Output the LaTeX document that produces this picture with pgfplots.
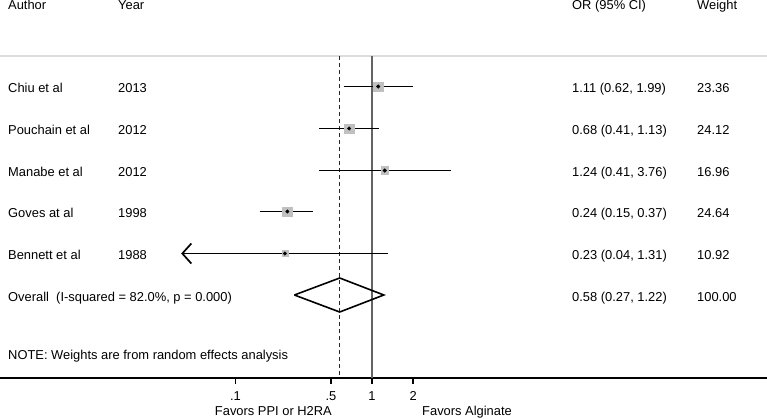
\documentclass[border=0pt]{standalone}
\usepackage{pgfplots}
\pgfplotsset{compat=1.18}
\usepackage{fontspec}
\setmainfont{Liberation Sans}
\usetikzlibrary{arrows.meta}
\definecolor{boxgray}{RGB}{192,192,192}
\definecolor{sepgray}{RGB}{220,220,220}
\definecolor{refgray}{RGB}{100,100,100}
\begin{document}
\begin{tikzpicture}[every node/.style={font=\fontsize{12.9bp}{15bp}\selectfont, inner sep=0pt}]
\begin{axis}[
  at={(0,0)}, anchor=north west,
  scale only axis, width=767bp, height=378bp,
  xmode=log, xmin=0.001883, xmax=783,
  ymin=-378, ymax=0,
  axis x line=bottom, axis y line=none,
  axis line style={-, black, line width=1.2bp},
  xtick={0.1,0.5,1,2}, xticklabels={.1,.5,1,2},
  minor xtick={},
  tick align=outside, major tick length=6bp,
  tick style={black, line width=1.2bp},
  xticklabel style={font=\fontsize{12.9bp}{15bp}\selectfont, yshift=-5.5bp, inner sep=2bp},
  /pgf/number format/assume math mode=true,
  clip=false,
]
% separator line
\addplot[sepgray, line width=2bp] coordinates {(0.001883,-56) (783,-56)};
% reference lines
\addplot[refgray, line width=2bp] coordinates {(1,-56) (1,-378)};
\addplot[black!85, line width=1.1bp, dash pattern=on 4bp off 3bp] coordinates {(0.58,-56) (0.58,-378)};
% confidence intervals
\addplot[black, line width=1.9bp] coordinates {(0.62,-86.5) (1.99,-86.5)};
\addplot[black, line width=1.9bp] coordinates {(0.41,-128.5) (1.13,-128.5)};
\addplot[black, line width=1.9bp] coordinates {(0.41,-170.5) (3.76,-170.5)};
\addplot[black, line width=1.9bp] coordinates {(0.15,-211.5) (0.37,-211.5)};
\addplot[black, line width=1.9bp, arrows={Straight Barb[length=9bp,width=20bp,line width=1.7bp]-}] coordinates {(0.04,-253.5) (1.31,-253.5)};
% weight boxes
\addplot[boxgray, only marks, mark=square*, mark size=4.58bp] coordinates {(1.11,-86.5)};
\addplot[boxgray, only marks, mark=square*, mark size=4.65bp] coordinates {(0.68,-128.5)};
\addplot[boxgray, only marks, mark=square*, mark size=3.90bp] coordinates {(1.24,-170.5)};
\addplot[boxgray, only marks, mark=square*, mark size=4.70bp] coordinates {(0.24,-211.5)};
\addplot[boxgray, only marks, mark=square*, mark size=3.13bp] coordinates {(0.23,-253.5)};
% point estimates
\addplot[black, only marks, mark=*, mark size=1.8bp] coordinates {(1.11,-86.5) (0.68,-128.5) (1.24,-170.5) (0.24,-211.5) (0.23,-253.5)};
% overall diamond
\addplot[black, line width=1.6bp] coordinates {(0.27,-295) (0.58,-278) (1.22,-295) (0.58,-312) (0.27,-295)};
\end{axis}
% text columns
\node[anchor=base west] at (8bp,-9bp) {Author};
\node[anchor=base west] at (118bp,-9bp) {Year};
\node[anchor=base west] at (572bp,-9bp) {OR (95\% CI)};
\node[anchor=base west] at (697bp,-9bp) {Weight};

\node[anchor=base west] at (8bp,-92.5bp) {Chiu et al};
\node[anchor=base west] at (118bp,-92.5bp) {2013};
\node[anchor=base west] at (572bp,-92.5bp) {1.11 (0.62, 1.99)};
\node[anchor=base west] at (697bp,-92.5bp) {23.36};

\node[anchor=base west] at (8bp,-134.5bp) {Pouchain et al};
\node[anchor=base west] at (118bp,-134.5bp) {2012};
\node[anchor=base west] at (572bp,-134.5bp) {0.68 (0.41, 1.13)};
\node[anchor=base west] at (697bp,-134.5bp) {24.12};

\node[anchor=base west] at (8bp,-176bp) {Manabe et al};
\node[anchor=base west] at (118bp,-176bp) {2012};
\node[anchor=base west] at (572bp,-176bp) {1.24 (0.41, 3.76)};
\node[anchor=base west] at (697bp,-176bp) {16.96};

\node[anchor=base west] at (8bp,-217.5bp) {Goves at al};
\node[anchor=base west] at (118bp,-217.5bp) {1998};
\node[anchor=base west] at (572bp,-217.5bp) {0.24 (0.15, 0.37)};
\node[anchor=base west] at (697bp,-217.5bp) {24.64};

\node[anchor=base west] at (8bp,-259.5bp) {Bennett et al};
\node[anchor=base west] at (118bp,-259.5bp) {1988};
\node[anchor=base west] at (572bp,-259.5bp) {0.23 (0.04, 1.31)};
\node[anchor=base west] at (697bp,-259.5bp) {10.92};

\node[anchor=base west] at (8bp,-301bp) {Overall\ \ (I-squared = 82.0\%, p = 0.000)};
\node[anchor=base west] at (572bp,-301bp) {0.58 (0.27, 1.22)};
\node[anchor=base west] at (697bp,-301bp) {100.00};

\node[anchor=base west] at (8bp,-359.5bp) {NOTE: Weights are from random effects analysis};

\node[anchor=base east] at (332bp,-415.5bp) {Favors PPI or H2RA};
\node[anchor=base west] at (422bp,-415.5bp) {Favors Alginate};

\pgfresetboundingbox
\useasboundingbox (0,0) rectangle (767bp,-419bp);
\end{tikzpicture}
\end{document}
